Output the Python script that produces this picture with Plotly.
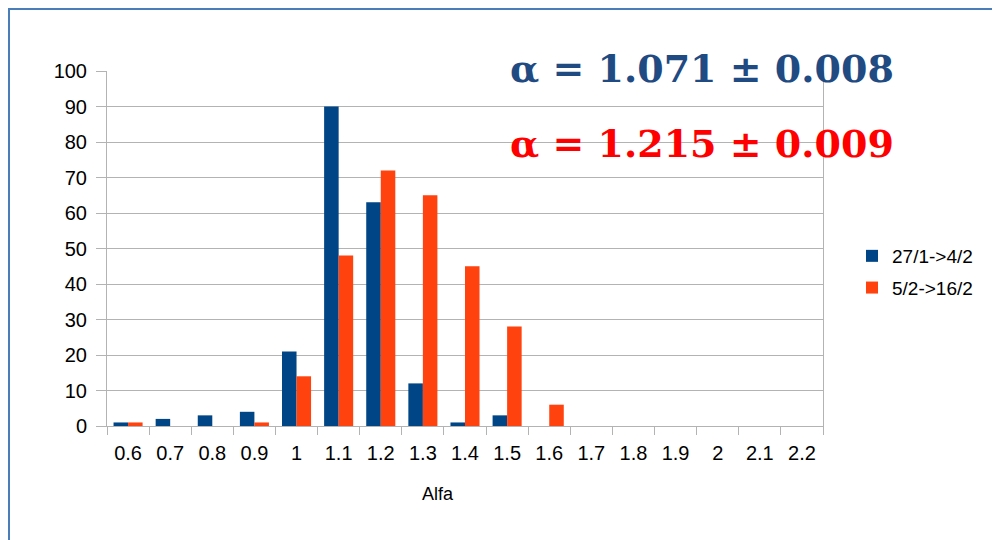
import plotly.graph_objects as go

categories = ["0.6", "0.7", "0.8", "0.9", "1", "1.1", "1.2", "1.3", "1.4",
              "1.5", "1.6", "1.7", "1.8", "1.9", "2", "2.1", "2.2"]
series1_name = "27/1->4/2"
series1 = [1, 2, 3, 4, 21, 90, 63, 12, 1, 3, 0, 0, 0, 0, 0, 0, 0]
series2_name = "5/2->16/2"
series2 = [1, 0, 0, 1, 14, 48, 72, 65, 45, 28, 6, 0, 0, 0, 0, 0, 0]
y_ticks = [0, 10, 20, 30, 40, 50, 60, 70, 80, 90, 100]
label1 = "α = 1.071 ± 0.008"
label2 = "α = 1.215 ± 0.009"
x_title = "Alfa"

OFF = 8  # page body margin in the browser
W, H = 1000 - OFF, 540 - OFF
L, R, T, B = 107 - OFF, 823 - OFF, 71 - OFF, 426 - OFF


def px(x):
    return (x - OFF - L) / (R - L)


def py(y):
    return (B - (y - OFF)) / (B - T)


fig = go.Figure()
fig.add_trace(go.Bar(x=categories, y=series1, name=series1_name, legendgroup="a",
                     marker=dict(color="#004586", line=dict(width=0))))
fig.add_trace(go.Bar(x=categories, y=series2, name=series2_name, legendgroup="b",
                     marker=dict(color="#ff420e", line=dict(width=0))))

grid = "#b3b3b3"
fig.update_layout(
    width=W, height=H,
    margin=dict(l=L, r=W - R, t=T, b=H - B),
    paper_bgcolor="white", plot_bgcolor="white",
    barmode="group", bargap=0.31, bargroupgap=0,
    font=dict(family="Liberation Sans, Arial, sans-serif", color="#000000", size=20),
    showlegend=True,
    legend=dict(x=px(852), y=py(237), xanchor="left", yanchor="top",
                font=dict(size=19), itemwidth=30, tracegroupgap=4,
                bgcolor="rgba(0,0,0,0)"),
    xaxis=dict(type="category", showline=True, linecolor=grid, linewidth=1,
               ticks="outside", tickson="boundaries", ticklen=8, tickcolor=grid,
               showgrid=False, tickfont=dict(size=20), mirror=False,
               ticklabelstandoff=9),
    yaxis=dict(range=[0, 100], tickvals=y_ticks, showgrid=True, gridcolor=grid,
               gridwidth=1, zeroline=False, showline=True, linecolor=grid,
               mirror=True, ticks="outside", ticklen=10, tickcolor=grid,
               tickfont=dict(size=20), ticklabelstandoff=5),
)

# blue outer frame (top and left edges)
fig.add_shape(type="rect", xref="paper", yref="paper",
              x0=px(OFF), x1=px(1000), y0=py(OFF), y1=py(OFF + 2),
              fillcolor="#4a7ebb", line=dict(width=0), layer="above")
fig.add_shape(type="rect", xref="paper", yref="paper",
              x0=px(OFF), x1=px(OFF + 2), y0=py(OFF), y1=py(540),
              fillcolor="#4a7ebb", line=dict(width=0), layer="above")

fig.add_annotation(x=px(508), y=py(68), xref="paper", yref="paper",
                   xanchor="left", yanchor="middle", showarrow=False,
                   text="<b>" + label1 + "</b>",
                   font=dict(family="DejaVu Serif, serif", size=38, color="#1f4b82"))
fig.add_annotation(x=px(508), y=py(143), xref="paper", yref="paper",
                   xanchor="left", yanchor="middle", showarrow=False,
                   text="<b>" + label2 + "</b>",
                   font=dict(family="DejaVu Serif, serif", size=38, color="#ff0000"))
fig.add_annotation(x=px(438), y=py(494), xref="paper", yref="paper",
                   xanchor="center", yanchor="middle", showarrow=False,
                   text=x_title, font=dict(size=18))

fig.write_html("out.html")
